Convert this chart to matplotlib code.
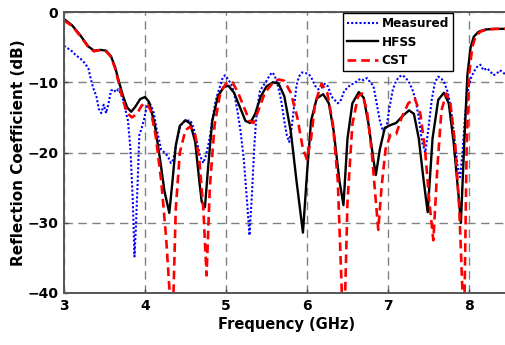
import matplotlib
matplotlib.use("Agg")
import matplotlib.pyplot as plt

plt.rcParams['font.family'] = ['DejaVu Sans']
plt.rcParams['font.weight'] = 'bold'

hfss_f = [3.00, 3.10, 3.20, 3.30, 3.37, 3.45, 3.52, 3.58, 3.63, 3.68, 3.73, 3.78, 3.83, 3.88, 3.94,
          4.00, 4.05, 4.12, 4.18, 4.24, 4.30, 4.34, 4.38, 4.43, 4.50, 4.56, 4.62, 4.67, 4.70, 4.74,
          4.78, 4.83, 4.90, 4.97, 5.03, 5.10, 5.17, 5.24, 5.30, 5.36, 5.43, 5.50, 5.58, 5.65, 5.72,
          5.80, 5.87, 5.95, 6.00, 6.05, 6.12, 6.20, 6.27, 6.33, 6.40, 6.45, 6.50, 6.56, 6.64, 6.70,
          6.76, 6.82, 6.85, 6.90, 6.96, 7.03, 7.10, 7.18, 7.26, 7.32, 7.38, 7.44, 7.49, 7.55, 7.62,
          7.69, 7.75, 7.81, 7.87, 7.90, 7.94, 7.98, 8.02, 8.06, 8.12, 8.20, 8.30, 8.45, 8.50]
hfss_db = [-1.0, -1.9, -3.3, -4.9, -5.5, -5.4, -5.5, -6.3, -7.8, -10.0, -12.0, -13.6, -14.2, -13.5, -12.4,
           -12.1, -12.8, -16.0, -20.5, -25.5, -28.6, -24.0, -19.0, -16.2, -15.4, -15.9, -18.5, -24.0, -27.0, -27.8,
           -22.0, -15.5, -12.0, -10.7, -10.5, -11.5, -13.5, -15.5, -15.8, -14.5, -12.0, -10.6, -10.0, -10.2, -12.0,
           -17.0, -24.0, -31.4, -23.0, -15.5, -12.3, -11.7, -13.0, -17.0, -24.0, -27.5, -18.0, -13.0, -11.4, -12.2,
           -16.0, -21.0, -23.2, -19.5, -16.5, -16.1, -15.8, -14.8, -14.0, -14.5, -18.0, -24.0, -28.5, -18.0, -12.5,
           -11.5, -13.0, -18.5, -26.0, -30.0, -19.0, -9.0, -5.0, -3.5, -2.8, -2.5, -2.4, -2.4, -2.4]

cst_f = [3.00, 3.10, 3.20, 3.30, 3.37, 3.45, 3.52, 3.58, 3.63, 3.68, 3.73, 3.78, 3.84, 3.90, 3.96,
         4.02, 4.07, 4.13, 4.20, 4.26, 4.31, 4.34, 4.38, 4.43, 4.50, 4.56, 4.62, 4.67, 4.72, 4.76,
         4.80, 4.86, 4.93, 5.00, 5.08, 5.15, 5.22, 5.29, 5.34, 5.40, 5.48, 5.57, 5.65, 5.72, 5.80,
         5.88, 5.95, 6.00, 6.05, 6.10, 6.18, 6.25, 6.32, 6.38, 6.43, 6.46, 6.50, 6.56, 6.63, 6.68,
         6.74, 6.80, 6.85, 6.88, 6.92, 6.97, 7.03, 7.10, 7.17, 7.25, 7.33, 7.40, 7.46, 7.51, 7.56,
         7.61, 7.66, 7.72, 7.77, 7.83, 7.88, 7.92, 7.94, 7.97, 8.00, 8.04, 8.08, 8.14, 8.22, 8.35, 8.50]
cst_db = [-1.2, -2.0, -3.4, -5.0, -5.6, -5.4, -5.6, -6.4, -8.0, -10.3, -12.6, -14.4, -15.0, -14.5, -13.3,
          -13.0, -14.0, -17.5, -24.0, -32.0, -41.0, -45.0, -28.0, -20.0, -16.8, -16.3, -17.5, -21.0, -28.0, -37.5,
          -25.0, -16.0, -11.5, -10.2, -10.0, -11.5, -13.5, -15.5, -15.8, -14.0, -11.5, -10.2, -9.6, -9.8, -11.5,
          -15.0, -19.5, -21.0, -18.0, -13.0, -10.2, -11.5, -16.0, -24.0, -40.0, -45.0, -27.0, -16.0, -12.0, -11.6,
          -14.0, -20.0, -27.0, -31.0, -25.0, -19.5, -17.5, -17.4, -15.0, -13.0, -12.3, -14.5, -20.0, -27.0, -32.5,
          -22.0, -14.0, -11.6, -13.0, -19.0, -28.0, -40.0, -45.0, -20.0, -9.0, -5.0, -3.5, -2.8, -2.5, -2.4, -2.4]

meas_f = [3.00, 3.05, 3.10, 3.15, 3.20, 3.25, 3.30, 3.33, 3.36, 3.40, 3.43, 3.46, 3.49, 3.52, 3.55,
          3.58, 3.61, 3.64, 3.67, 3.70, 3.73, 3.76, 3.79, 3.82, 3.85, 3.87, 3.89, 3.91, 3.93, 3.96,
          3.99, 4.02, 4.05, 4.08, 4.11, 4.14, 4.17, 4.20, 4.24, 4.28, 4.32, 4.35, 4.39, 4.43, 4.47,
          4.52, 4.56, 4.60, 4.64, 4.68, 4.72, 4.75, 4.79, 4.83, 4.87, 4.90, 4.93, 4.96, 4.99, 5.02,
          5.06, 5.10, 5.14, 5.18, 5.22, 5.26, 5.29, 5.32, 5.35, 5.38, 5.42, 5.46, 5.50, 5.54, 5.57,
          5.60, 5.64, 5.68, 5.72, 5.75, 5.78, 5.81, 5.84, 5.87, 5.90, 5.94, 5.98, 6.02, 6.06, 6.10,
          6.14, 6.18, 6.22, 6.26, 6.30, 6.34, 6.38, 6.42, 6.46, 6.50, 6.54, 6.58, 6.62, 6.66, 6.70,
          6.74, 6.78, 6.82, 6.86, 6.90, 6.94, 6.98, 7.02, 7.06, 7.10, 7.14, 7.18, 7.22, 7.26, 7.30,
          7.34, 7.38, 7.42, 7.46, 7.50, 7.54, 7.58, 7.62, 7.66, 7.70, 7.74, 7.78, 7.82, 7.86, 7.89,
          7.92, 7.95, 7.98, 8.02, 8.06, 8.10, 8.14, 8.18, 8.22, 8.26, 8.30, 8.34, 8.38, 8.42, 8.46, 8.50]
meas_db = [-4.8, -5.2, -5.6, -6.2, -6.6, -7.2, -8.0, -9.5, -10.8, -12.0, -13.8, -14.4, -13.2, -14.4, -13.0,
           -11.2, -11.0, -11.4, -11.0, -11.6, -12.5, -14.0, -15.5, -19.5, -27.0, -34.8, -30.0, -24.0, -17.5, -16.5,
           -15.2, -13.5, -12.8, -13.5, -14.4, -16.5, -18.0, -19.6, -20.0, -20.5, -21.5, -21.0, -18.5, -16.5, -15.6,
           -15.5, -15.4, -16.5, -18.5, -20.5, -21.5, -20.5, -18.5, -15.5, -12.8, -11.5, -10.5, -9.3, -9.0, -9.5,
           -10.2, -11.5, -14.0, -17.0, -21.0, -27.0, -31.8, -26.0, -19.0, -14.0, -11.2, -10.5, -9.8, -9.0, -8.6,
           -9.0, -10.5, -12.5, -15.5, -17.5, -18.5, -16.5, -13.5, -10.5, -9.2, -8.6, -8.7, -8.8, -9.5, -10.5,
           -11.0, -10.8, -10.2, -10.6, -12.0, -12.5, -13.0, -12.5, -11.2, -10.8, -10.3, -10.2, -9.8, -9.5, -9.7,
           -9.4, -10.0, -10.5, -13.0, -15.5, -17.0, -16.5, -13.5, -11.0, -9.8, -9.2, -9.0, -9.4, -10.0, -11.0,
           -12.5, -15.0, -18.5, -20.0, -16.5, -12.5, -10.0, -9.2, -9.5, -10.2, -11.5, -14.0, -18.0, -22.0, -23.5,
           -20.0, -15.0, -11.5, -9.5, -8.5, -7.8, -7.5, -8.3, -8.0, -8.4, -9.0, -8.8, -8.3, -8.6, -9.0, -9.2]

x_ticks = [3, 4, 5, 6, 7, 8]
y_ticks = [-40, -30, -20, -10, 0]

W, H = 506, 345
fig = plt.figure(figsize=(W / 100, H / 100), dpi=100)
left, right, bottom, top = 64, 509.5, 293, 12
ax = fig.add_axes([left / W, (H - bottom) / H, (right - left) / W, (bottom - top) / H])

ax.plot(meas_f, meas_db, color='#0000ff', lw=1.5, linestyle=(0, (1, 1)), label='Measured')
ax.plot(hfss_f, hfss_db, color='black', lw=1.7, label='HFSS')
ax.plot(cst_f, cst_db, color='#ff0000', lw=1.9, linestyle=(0, (3.3, 1.9)), label='CST')

ax.set_xlim(3, 8.5)
ax.set_ylim(-40, 0)
ax.set_xticks(x_ticks)
ax.set_yticks(y_ticks)
ax.grid(True, color='#808080', linestyle=(0, (6, 4)), lw=1.0)
ax.tick_params(direction='in', length=3, labelsize=10, width=1, color='#444444', pad=4)
for lab in ax.get_xticklabels() + ax.get_yticklabels():
    lab.set_fontweight('bold')
for s in ax.spines.values():
    s.set_color('#555555')
    s.set_linewidth(1.4)

ax.set_xlabel('Frequency (GHz)', fontsize=10.5, fontweight='bold', labelpad=3)
ax.set_ylabel('Reflection Coefficient (dB)', fontsize=11, fontweight='bold', labelpad=1)

leg = ax.legend(loc='upper right', bbox_to_anchor=(453 / W, (H - 13) / H), bbox_transform=fig.transFigure,
                borderaxespad=0, fancybox=False, framealpha=1, edgecolor='black',
                prop={'weight': 'bold', 'size': 8.7}, handlelength=2.6, labelspacing=0.45,
                borderpad=0.35, handletextpad=0.25)
leg.get_frame().set_linewidth(1.0)

fig.savefig('out.png', dpi=100)
